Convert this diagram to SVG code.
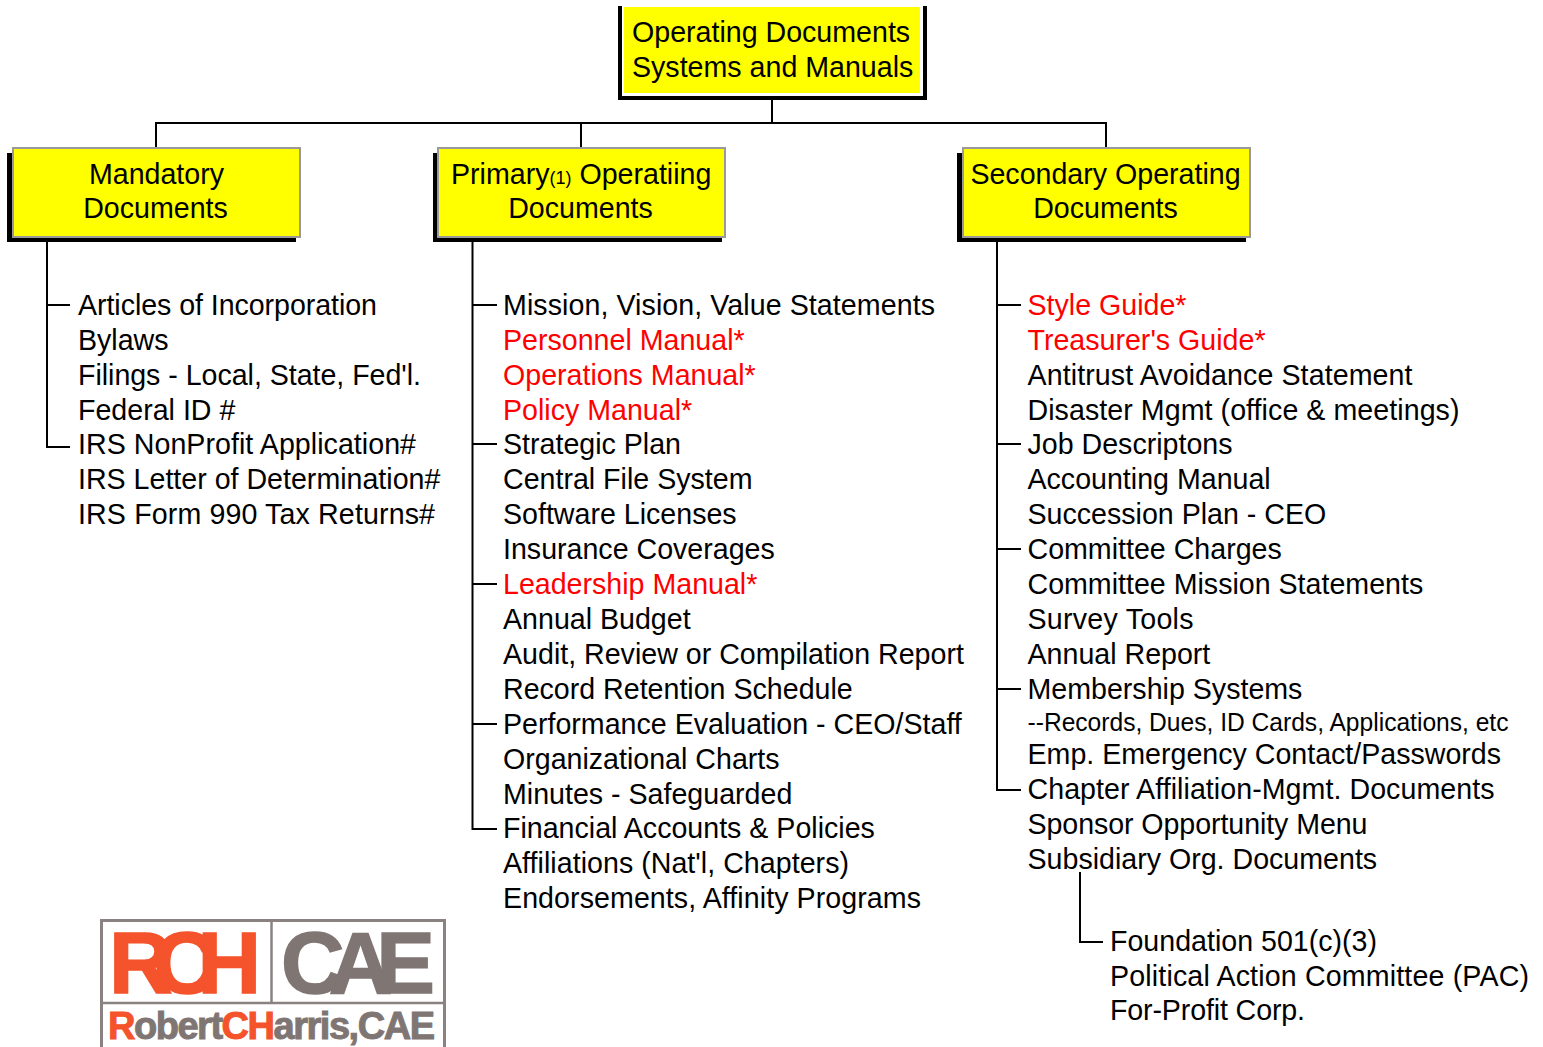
<svg xmlns="http://www.w3.org/2000/svg" width="1543" height="1047" viewBox="0 0 1543 1047">
<style>
text{font-family:"Liberation Sans",Arial,sans-serif;font-size:28.6px;fill:#000}
.r{fill:#ff0000}
.c{text-anchor:middle}
.box{fill:#ffff00;stroke:#999;stroke-width:2}
.sh{fill:#000}
.ln{fill:none;stroke:#000;stroke-width:2}
.small{font-size:18px}
.sub{font-size:25px}
.og{fill:#f4532b;stroke:#f4532b}
.gy{fill:#7f7674;stroke:#7f7674}
.lg{font-weight:bold;stroke-width:1.5px}
.big{font-size:88px}
.name{font-size:38px;stroke-width:1px}
</style>
<rect width="1543" height="1047" fill="#fff"/>
<g id="connectors" class="ln">
<path d="M772 98V123M156 147V123H1106V147M581 123V147"/>
<path d="M47 238V447H70M47 305H70"/>
<path d="M472.500 238V829H497M472.500 305H497M472.500 444H497M472.500 584H497M472.500 724H497"/>
<path d="M997 238V790H1021M997 305H1021M997 444H1021M997 549H1021M997 689H1021"/>
<path d="M1080 872V942H1103"/>
</g>
<g id="root">
<rect class="sh" x="618" y="6" width="309" height="94"/>
<rect x="622" y="6" width="301" height="90" fill="#fff"/>
<rect x="624" y="7" width="296" height="86" fill="#ffff00"/>
<text x="632" y="42">Operating Documents</text>
<text x="632" y="77">Systems and Manuals</text>
</g>
<g id="mandatory">
<rect class="sh" x="7" y="153" width="289" height="89"/>
<rect class="box" x="13" y="148" width="287" height="89"/>
<text class="c" x="156.500" y="184">Mandatory</text>
<text class="c" x="155.500" y="218">Documents</text>
</g>
<g id="primary">
<rect class="sh" x="433" y="153" width="289" height="89"/>
<rect class="box" x="438" y="148" width="287" height="89"/>
<text x="451" y="184">Primary<tspan class="small">(1)</tspan> Operatiing</text>
<text class="c" x="580.500" y="218">Documents</text>
</g>
<g id="secondary">
<rect class="sh" x="957" y="153" width="289" height="89"/>
<rect class="box" x="963" y="148" width="287" height="89"/>
<text class="c" x="1105.500" y="184">Secondary Operating</text>
<text class="c" x="1105.500" y="218">Documents</text>
</g>
<g id="mandatory-list">
<text x="78" y="315" textLength="299">Articles of Incorporation</text>
<text x="78" y="350">Bylaws</text>
<text x="78" y="385" textLength="343">Filings - Local, State, Fed'l.</text>
<text x="78" y="420">Federal ID #</text>
<text x="78" y="454" textLength="338">IRS NonProfit Application#</text>
<text x="78" y="489">IRS Letter of Determination#</text>
<text x="78" y="524" textLength="357">IRS Form 990 Tax Returns#</text>
</g>
<g id="primary-list">
<text x="503" y="315" textLength="432">Mission, Vision, Value Statements</text>
<text class="r" x="503" y="350">Personnel Manual*</text>
<text class="r" x="503" y="385">Operations Manual*</text>
<text class="r" x="503" y="420">Policy Manual*</text>
<text x="503" y="454">Strategic Plan</text>
<text x="503" y="489">Central File System</text>
<text x="503" y="524">Software Licenses</text>
<text x="503" y="559">Insurance Coverages</text>
<text class="r" x="503" y="594">Leadership Manual*</text>
<text x="503" y="629">Annual Budget</text>
<text x="503" y="664">Audit, Review or Compilation Report</text>
<text x="503" y="699">Record Retention Schedule</text>
<text x="503" y="734">Performance Evaluation - CEO/Staff</text>
<text x="503" y="769">Organizational Charts</text>
<text x="503" y="804">Minutes - Safeguarded</text>
<text x="503" y="838">Financial Accounts &amp; Policies</text>
<text x="503" y="873" textLength="346">Affiliations (Nat'l, Chapters)</text>
<text x="503" y="908" textLength="418">Endorsements, Affinity Programs</text>
</g>
<g id="secondary-list">
<text class="r" x="1027.500" y="315">Style Guide*</text>
<text class="r" x="1027.500" y="350">Treasurer's Guide*</text>
<text x="1027.500" y="385" textLength="385">Antitrust Avoidance Statement</text>
<text x="1027.500" y="420" textLength="432">Disaster Mgmt (office &amp; meetings)</text>
<text x="1027.500" y="454">Job Descriptons</text>
<text x="1027.500" y="489">Accounting Manual</text>
<text x="1027.500" y="524">Succession Plan - CEO</text>
<text x="1027.500" y="559">Committee Charges</text>
<text x="1027.500" y="594">Committee Mission Statements</text>
<text x="1027.500" y="629" textLength="166">Survey Tools</text>
<text x="1027.500" y="664">Annual Report</text>
<text x="1027.500" y="699">Membership Systems</text>
<text class="sub" x="1027.500" y="731" textLength="481" lengthAdjust="spacingAndGlyphs">--Records, Dues, ID Cards, Applications, etc</text>
<text x="1027.500" y="764">Emp. Emergency Contact/Passwords</text>
<text x="1027.500" y="799" textLength="467">Chapter Affiliation-Mgmt. Documents</text>
<text x="1027.500" y="834" textLength="340">Sponsor Opportunity Menu</text>
<text x="1027.500" y="869">Subsidiary Org. Documents</text>
</g>
<g id="subsidiary-list">
<text x="1110" y="951">Foundation 501(c)(3)</text>
<text x="1110" y="986" textLength="419">Political Action Committee (PAC)</text>
<text x="1110" y="1020" textLength="195">For-Profit Corp.</text>
</g>
<g id="logo">
<rect x="101.500" y="920.500" width="343" height="130" fill="#fff" stroke="#8a8280" stroke-width="3"/>
<path d="M102 1003H444M271.500 921V1003" stroke="#8a8280" stroke-width="2.500" fill="none"/>
<text class="lg og big" x="109" y="993" textLength="152" lengthAdjust="spacing">RCH</text>
<text class="lg gy big" x="281" y="993" textLength="154" lengthAdjust="spacing">CAE</text>
<text class="lg gy name" x="108" y="1039" textLength="327" lengthAdjust="spacing"><tspan class="og">R</tspan>obert<tspan class="og">CH</tspan>arris,CAE</text>
</g>
</svg>
